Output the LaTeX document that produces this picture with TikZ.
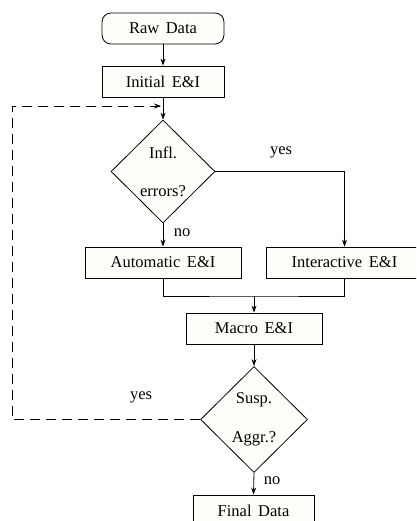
\documentclass[tikz,border=0pt]{standalone}
\usepackage{fontspec}
\setmainfont{Liberation Serif}
\usetikzlibrary{shapes.geometric,arrows.meta}
\definecolor{boxfill}{HTML}{FFFEF8}
\newcommand\wsp{\hspace{0.4em}}
\begin{document}
\begin{tikzpicture}[x=1pt,y=-1pt,
  every node/.style={font=\fontsize{16.5}{19}\selectfont, inner sep=0pt},
  box/.style={draw, fill=boxfill, line width=0.8pt, minimum height=31pt},
  decision/.style={draw, fill=boxfill, line width=0.8pt, diamond, align=center},
  arr/.style={line width=0.8pt, -{Stealth[length=7pt,width=5pt]}},
  ln/.style={line width=0.8pt},
  loop/.style={line width=0.8pt, dash pattern=on 10pt off 6pt}]
\useasboundingbox (0,0) rectangle (416,521);
\begin{scope}
\clip (0,0) rectangle (416,521);
\node[box, rounded corners=9pt, minimum width=122pt] (raw) at (163,28.5) {Raw\wsp Data};
\node[box, minimum width=122pt] (init) at (163,81.5) {Initial\wsp E\&I};
\node[decision, minimum width=104pt, minimum height=103pt] (d1) at (163,171.5) {};
\node (d1a) at (163,153) {Infl.};
\node (d1b) at (163,191) {errors?};
\node[box, minimum width=156pt] (auto) at (163,262.5) {Automatic\wsp E\&I};
\node[box, minimum width=156pt] (inter) at (344.5,262.5) {Interactive\wsp E\&I};
\node[box, minimum width=136pt] (macro) at (254,328.5) {Macro\wsp E\&I};
\node[decision, minimum width=107pt, minimum height=106pt] (d2) at (254,419.5) {};
\node (d2a) at (254,400) {Susp.};
\node (d2b) at (254,439) {Aggr.?};
\node[box, minimum width=121pt] (final) at (253.5,510.5) {Final\wsp Data};
\end{scope}
\node (yes1) at (281,152) {yes};
\node (no1) at (182,233) {no};
\node (yes2) at (141,397) {yes};
\node (no2) at (272,481) {no};
\coordinate (merge) at (254,296);
\coordinate (lp1) at (12,419.5);
\coordinate (lp2) at (12,106);
\coordinate (lp3) at (161,106);
\draw[arr] (raw.south) -- (init.north);
\draw[arr] (init.south) -- (d1.north);
\draw[arr] (d1.south) -- (auto.north);
\draw[arr] (d1.east) -| (inter.north);
\draw[ln] (auto.south) |- (merge) -| (inter.south);
\draw[arr] (merge) -- (macro.north);
\draw[arr] (macro.south) -- (d2.north);
\draw[arr] (d2.south) -- (final.north);
\draw[loop] (d2.west) -- (lp1) -- (lp2) -- (lp3);
\draw[line width=0.8pt, -{Stealth[length=7pt,width=5pt]}] ([xshift=-1pt]lp3) -- (lp3);
\end{tikzpicture}
\end{document}
